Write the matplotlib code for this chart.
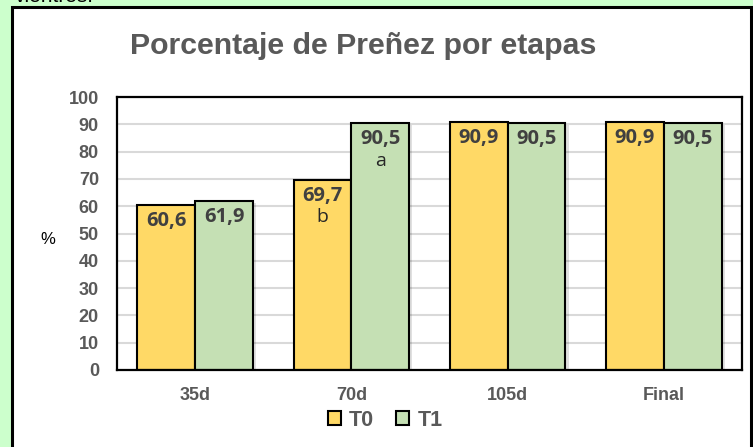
import matplotlib
matplotlib.use("Agg")
import matplotlib.pyplot as plt
import matplotlib.patches as mpatches
import numpy as np

categories = ["35d", "70d", "105d", "Final"]
t0_values = [60.6, 69.7, 90.9, 90.9]
t1_values = [61.9, 90.5, 90.5, 90.5]
t0_letters = ["", "b", "", ""]
t1_letters = ["", "a", "", ""]
series_names = ["T0", "T1"]
yticks = list(range(0, 101, 10))

W, H = 753, 447
fig = plt.figure(figsize=(W / 100, H / 100), dpi=100)
fig.patch.set_facecolor("#ccffcc")

# white chart box
box = mpatches.Rectangle((12 / W, -0.05), (751 - 12) / W, 1 - 7 / H + 0.05,
                         transform=fig.transFigure, facecolor="white",
                         edgecolor="black", linewidth=2.2, zorder=-5)
fig.patches.append(box)

fig.text(15 / W, 1 - 1.5 / H, "vientres.", fontsize=15, color="black",
         family="Liberation Sans", va="baseline", ha="left")

ax = fig.add_axes([117 / W, 1 - 370 / H, (742 - 117) / W, (370 - 97) / H])
ax.set_facecolor("white")
ax.set_zorder(2)

x = np.arange(len(categories))
w = 0.37
gray = "#595959"

shadow_kw = dict(color="#000000", alpha=0.12, zorder=1.5, linewidth=0)
for xs, vals in ((x - w / 2, t0_values), (x + w / 2, t1_values)):
    ax.bar(xs + 0.02, vals, w, bottom=-0.8, **shadow_kw)

ax.bar(x - w / 2, t0_values, w, color="#ffd966", edgecolor="black",
       linewidth=1.5, zorder=2, label=series_names[0])
ax.bar(x + w / 2, t1_values, w, color="#c5e0b4", edgecolor="black",
       linewidth=1.5, zorder=2, label=series_names[1])

for xs, vals, letters in ((x - w / 2, t0_values, t0_letters),
                          (x + w / 2, t1_values, t1_letters)):
    for xi, v, l in zip(xs, vals, letters):
        ax.text(xi, v - 2.3, f"{v:.1f}".replace(".", ","), ha="center", va="top",
                fontsize=14.5, fontweight="bold", color="#404040",
                family="Open Sans", zorder=3)
        if l:
            ax.text(xi, v - 10.5, l, ha="center", va="top", fontsize=14,
                    color="#262626", family="Open Sans", zorder=3)

ax.set_ylim(0, 100)
ax.set_xlim(-0.5, len(categories) - 0.5)
ax.set_yticks(yticks)
ax.set_xticks(x)
ax.set_xticklabels(categories)
ax.yaxis.grid(True, color="#d9d9d9", linewidth=1.5)
ax.set_axisbelow(True)
for s in ax.spines.values():
    s.set_color("black")
    s.set_linewidth(1.6)
ax.tick_params(length=0)
for lab in ax.get_xticklabels() + ax.get_yticklabels():
    lab.set_fontsize(13)
    lab.set_fontweight("bold")
    lab.set_color(gray)
    lab.set_family("Liberation Sans")
ax.tick_params(axis="x", pad=12)
ax.tick_params(axis="y", pad=13)

fig.text(48 / W, 1 - 240 / H, "%", fontsize=12, color="black",
         family="Liberation Sans", ha="center", va="center")

fig.text(363 / W, 1 - 46 / H, "Porcentaje de Preñez por etapas", fontsize=21.8,
         fontweight="bold", color=gray, family="Liberation Sans",
         ha="center", va="center")

handles = [mpatches.Patch(facecolor="#ffd966", edgecolor="black", linewidth=1.5),
           mpatches.Patch(facecolor="#c5e0b4", edgecolor="black", linewidth=1.5)]
leg = fig.legend(handles, series_names, loc="center", bbox_to_anchor=(385 / W, 1 - 420 / H),
                 ncol=2, frameon=False, handlelength=0.6, handleheight=0.6,
                 handletextpad=0.4, columnspacing=1.0,
                 prop={"family": "Liberation Sans", "weight": "bold", "size": 15.5})
for t in leg.get_texts():
    t.set_color(gray)

fig.savefig("out.png", dpi=100, facecolor=fig.get_facecolor())
